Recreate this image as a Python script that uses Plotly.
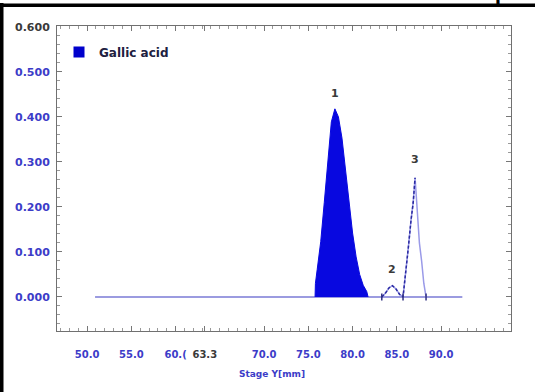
import plotly.graph_objects as go

# ---------------- data ----------------
baseline_x = [50.9, 92.4]
baseline_y = [0.0, 0.0]

peak1_x = [75.76, 75.8, 76.0, 76.4, 76.8, 77.2, 77.6, 78.0, 78.4, 78.8, 79.2,
           79.6, 80.0, 80.4, 80.8, 81.2, 81.6, 81.75]
peak1_y = [0.0, 0.03, 0.061, 0.123, 0.21, 0.309, 0.389, 0.418, 0.40, 0.353,
           0.285, 0.21, 0.142, 0.089, 0.05, 0.026, 0.012, 0.0]

peak2_x = [83.3, 83.7, 84.1, 84.5, 84.9, 85.3, 85.7]
peak2_y = [0.0, 0.008, 0.02, 0.025, 0.018, 0.006, 0.0]

peak3_x = [85.7, 86.0, 86.3, 86.6, 86.85, 87.06, 87.3, 87.55, 87.8, 88.05, 88.3]
peak3_y = [0.0, 0.05, 0.11, 0.17, 0.21, 0.265, 0.20, 0.12, 0.08, 0.03, 0.0]

boundary_x = [83.3, 85.7, 88.3]
boundary_y = [0.0, 0.0, 0.0]

peak_labels = ["1", "2", "3"]
peak_label_x = [78.0, 84.5, 87.06]
peak_label_y = [0.452, 0.06, 0.305]

x_tickvals = [50.0, 55.0, 60.0, 63.3, 70.0, 75.0, 80.0, 85.0, 90.0]
x_ticktext = ["50.0", "55.0", "60.(", "<span style='color:#3a3a3a'>63.3</span>",
              "70.0", "75.0", "80.0", "85.0", "90.0"]
y_tickvals = [0.0, 0.1, 0.2, 0.3, 0.4, 0.5, 0.6]
y_ticktext = ["0.000", "0.100", "0.200", "0.300", "0.400", "0.500",
              "<span style='color:#3a3a3a'>0.600</span>"]

series_name = "Gallic acid"
x_title = "Stage Y[mm]"

# ---------------- styles ----------------
BLUE_TXT = "#3c3cc8"
FILL = "#0808e0"
FONT = "DejaVu Sans"

fig = go.Figure()

fig.add_trace(go.Scatter(x=baseline_x, y=baseline_y, mode="lines",
                         line=dict(color="#7a7ad6", width=1.5),
                         showlegend=False, hoverinfo="skip"))

fig.add_trace(go.Scatter(x=peak1_x, y=peak1_y, mode="lines", fill="tozeroy",
                         fillcolor=FILL, line=dict(color=FILL, width=1),
                         showlegend=False))

# light solid outline for peaks 2 & 3
fig.add_trace(go.Scatter(x=peak2_x + peak3_x[1:], y=peak2_y + peak3_y[1:],
                         mode="lines", line=dict(color="#9a9ae8", width=1.5),
                         showlegend=False))
# dark dashed rising parts
fig.add_trace(go.Scatter(x=peak2_x + peak3_x[1:6], y=peak2_y + peak3_y[1:6],
                         mode="lines", line=dict(color="#2a2aa0", width=1.5, dash="3px,2px"),
                         showlegend=False))

fig.add_trace(go.Scatter(x=boundary_x, y=boundary_y, mode="markers",
                         marker=dict(symbol="line-ns-open", size=5, color="#303080",
                                     line=dict(color="#303080", width=1.5)),
                         showlegend=False))

# legend entry
fig.add_trace(go.Scatter(x=[None], y=[None], mode="markers", name=series_name,
                         marker=dict(symbol="square", size=11, color="#0000cc")))

for t, xv, yv in zip(peak_labels, peak_label_x, peak_label_y):
    fig.add_annotation(x=xv, y=yv, text=t, showarrow=False, xref="x", yref="y",
                       font=dict(family=FONT, size=11, color="#3a3a3a", weight="bold"))

W, H = 535, 392
L, R, T, B = 57, 24, 26, 61
pw, ph = W - L - R, H - T - B

def px(xp):
    return (xp - L) / pw

def py(yp):
    return (H - B - yp) / ph

fig.add_annotation(x=px(272), y=py(381), xref="paper", yref="paper", text=x_title,
                   showarrow=False,
                   font=dict(family=FONT, size=9, color=BLUE_TXT, weight="bold"))

# cropped title fragment
fig.add_annotation(x=px(509), y=py(7), xref="paper", yref="paper", text="<b>p</b>",
                   showarrow=False, yanchor="bottom",
                   font=dict(family="Liberation Serif", size=22, color="#000000"))

# black frame edges
fig.add_shape(type="rect", xref="paper", yref="paper", x0=px(0), x1=px(3.5),
              y0=py(392), y1=py(3), fillcolor="black", line_width=0, layer="above")
fig.add_shape(type="rect", xref="paper", yref="paper", x0=px(0), x1=px(535),
              y0=py(7), y1=py(3.5), fillcolor="black", line_width=0, layer="above")

fig.update_layout(
    width=W, height=H,
    margin=dict(l=L, r=R, t=T, b=B, pad=0),
    paper_bgcolor="white", plot_bgcolor="white",
    showlegend=True,
    legend=dict(x=px(59), y=py(52), xanchor="left", yanchor="middle",
                bgcolor="rgba(0,0,0,0)", borderwidth=0,
                font=dict(family=FONT, size=12, color="#202040", weight="bold"),
                itemwidth=30),
    xaxis=dict(range=[46.6, 97.9], tickvals=x_tickvals, ticktext=x_ticktext,
               tickangle=0, ticks="inside", ticklen=5, tickcolor="#777777",
               showline=True, linecolor="#707070", linewidth=1, mirror="allticks",
               showgrid=False, zeroline=False, ticklabelstandoff=14,
               tickfont=dict(family=FONT, size=10, color=BLUE_TXT, weight="bold"),
               minor=dict(ticks="inside", ticklen=3, dtick=1, tick0=0, tickcolor="#999999")),
    yaxis=dict(range=[-0.0756, 0.602], tickvals=y_tickvals, ticktext=y_ticktext,
               ticks="inside", ticklen=5, tickcolor="#777777",
               showline=True, linecolor="#707070", linewidth=1, mirror="allticks",
               showgrid=False, zeroline=False, ticklabelstandoff=4,
               tickfont=dict(family=FONT, size=11, color=BLUE_TXT, weight="bold"),
               minor=dict(ticks="inside", ticklen=3, dtick=0.02, tick0=0, tickcolor="#999999")),
)

fig.write_html("out.html")
